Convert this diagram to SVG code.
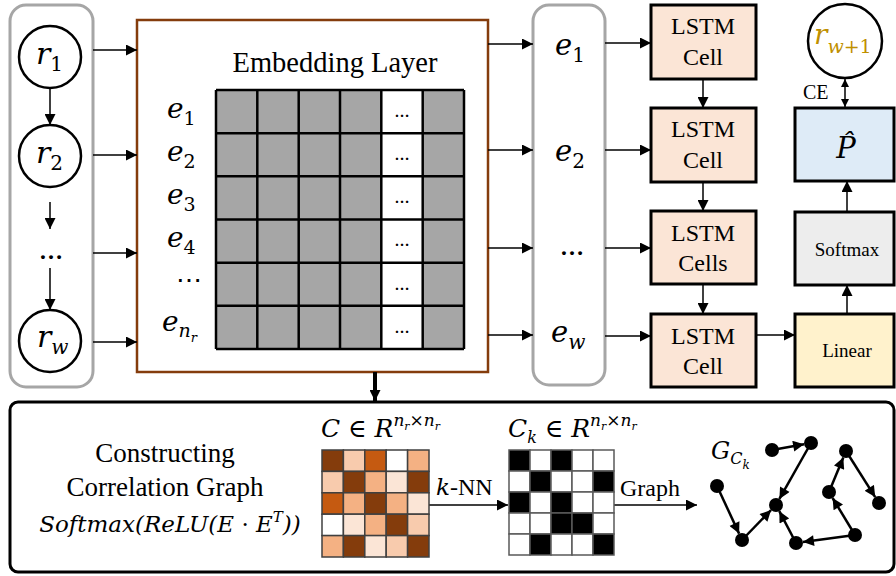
<svg xmlns="http://www.w3.org/2000/svg" width="896" height="576" viewBox="0 0 896 576">
  <defs>
    <style>
      .serif { font-family: "Liberation Serif", "Times New Roman", serif; fill: #000; }
      .math { font-family: "DejaVu Serif", serif; font-style: italic; fill: #000; }
      .up { font-style: normal; }
      .gold { fill: #bf9000; }
      .column { fill: #fff; stroke: #a6a6a6; stroke-width: 3; }
      .node { fill: #fff; stroke: #000; stroke-width: 2.5; }
      .lstm { fill: #fbe5d6; stroke: #000; stroke-width: 3; }
      .conn { stroke: #000; stroke-width: 1.5; fill: none; marker-end: url(#ah); }
      .gedge { stroke: #000; stroke-width: 2.5; fill: none; marker-end: url(#gah); }
      .gnode { fill: #000; }
      .dots { font-family: "Liberation Serif", serif; font-weight: bold; font-size: 15px; text-anchor: middle; }
    </style>
    <marker id="ah" viewBox="0 0 10 10" refX="10" refY="5" markerWidth="13" markerHeight="11" markerUnits="userSpaceOnUse" orient="auto-start-reverse">
      <path d="M0,0 L10,5 L0,10 z" fill="#000"/>
    </marker>
    <marker id="ahs" viewBox="0 0 10 10" refX="10" refY="5" markerWidth="9" markerHeight="8" markerUnits="userSpaceOnUse" orient="auto-start-reverse">
      <path d="M0,0 L10,5 L0,10 z" fill="#000"/>
    </marker>
    <marker id="gah" viewBox="0 0 10 10" refX="10" refY="5" markerWidth="12" markerHeight="11" markerUnits="userSpaceOnUse" orient="auto">
      <path d="M0,0 L10,5 L0,10 z" fill="#000"/>
    </marker>
  </defs>

  <!-- input sequence column -->
  <g id="input-sequence">
    <rect class="column" x="10" y="5" width="83" height="382" rx="16"/>
    <g id="r1">
      <circle class="node" cx="50" cy="57" r="31"/>
      <text class="math" x="36" y="64" font-size="30">r<tspan class="up" font-size="20" dy="7">1</tspan></text>
    </g>
    <g id="r2">
      <circle class="node" cx="50" cy="156" r="31"/>
      <text class="math" x="36" y="163" font-size="30">r<tspan class="up" font-size="20" dy="7">2</tspan></text>
    </g>
    <text x="51" y="259" class="serif" font-size="24" font-weight="bold" text-anchor="middle">…</text>
    <g id="rw">
      <circle class="node" cx="50" cy="341" r="31"/>
      <text class="math" x="37" y="347" font-size="30">r<tspan font-size="20" dy="7">w</tspan></text>
    </g>
  </g>

  <!-- embedding layer -->
  <g id="embedding-layer">
    <rect x="137" y="20" width="351" height="352" fill="#fff" stroke="#843c0c" stroke-width="2.5"/>
    <text class="serif" x="335" y="72" font-size="28.5" text-anchor="middle">Embedding Layer</text>
    <rect x="216" y="90" width="248" height="259" fill="#a6a6a6"/>
    <rect x="381.3" y="90" width="41.4" height="259" fill="#fff"/>
    <g stroke="#000" stroke-width="2.5">
      <line x1="216" y1="90" x2="216" y2="349"/>
      <line x1="257.3" y1="90" x2="257.3" y2="349"/>
      <line x1="298.7" y1="90" x2="298.7" y2="349"/>
      <line x1="340" y1="90" x2="340" y2="349"/>
      <line x1="381.3" y1="90" x2="381.3" y2="349"/>
      <line x1="422.7" y1="90" x2="422.7" y2="349"/>
      <line x1="464" y1="90" x2="464" y2="349"/>
      <line x1="216" y1="90" x2="464" y2="90"/>
      <line x1="216" y1="133.2" x2="464" y2="133.2"/>
      <line x1="216" y1="176.3" x2="464" y2="176.3"/>
      <line x1="216" y1="219.5" x2="464" y2="219.5"/>
      <line x1="216" y1="262.7" x2="464" y2="262.7"/>
      <line x1="216" y1="305.8" x2="464" y2="305.8"/>
      <line x1="216" y1="349" x2="464" y2="349"/>
    </g>
    <g class="dots">
      <text x="402" y="117">…</text>
      <text x="402" y="160">…</text>
      <text x="402" y="203">…</text>
      <text x="402" y="246">…</text>
      <text x="402" y="290">…</text>
      <text x="402" y="333">…</text>
    </g>
    <text class="math" x="167" y="118" font-size="28">e<tspan class="up" font-size="19" dy="7">1</tspan></text>
    <text class="math" x="167" y="161" font-size="28">e<tspan class="up" font-size="19" dy="7">2</tspan></text>
    <text class="math" x="167" y="204" font-size="28">e<tspan class="up" font-size="19" dy="7">3</tspan></text>
    <text class="math" x="167" y="247" font-size="28">e<tspan class="up" font-size="19" dy="7">4</tspan></text>
    <text class="math" x="189" y="289" font-size="26" text-anchor="middle"><tspan class="up">⋯</tspan></text>
    <text class="math" x="162" y="331" font-size="28">e<tspan font-size="19" dy="6">n</tspan><tspan font-size="13" dy="5">r</tspan></text>
  </g>

  <!-- embedded sequence column -->
  <g id="embedded-sequence">
    <rect class="column" x="533" y="5" width="72" height="380" rx="16"/>
    <text class="math" x="555" y="55" font-size="29">e<tspan class="up" font-size="20" dy="7">1</tspan></text>
    <text class="math" x="555" y="161" font-size="29">e<tspan class="up" font-size="20" dy="7">2</tspan></text>
    <text x="572" y="255" class="serif" font-size="24" font-weight="bold" text-anchor="middle">…</text>
    <text class="math" x="551" y="342" font-size="29">e<tspan font-size="20" dy="7">w</tspan></text>
  </g>

  <!-- LSTM cells -->
  <g id="lstm-1">
    <rect class="lstm" x="651" y="5" width="105" height="74"/>
    <text class="serif" x="703" y="34" font-size="24" text-anchor="middle">LSTM</text>
    <text class="serif" x="703" y="65" font-size="24" text-anchor="middle">Cell</text>
  </g>
  <g id="lstm-2">
    <rect class="lstm" x="651" y="108" width="105" height="74"/>
    <text class="serif" x="703" y="137" font-size="24" text-anchor="middle">LSTM</text>
    <text class="serif" x="703" y="168" font-size="24" text-anchor="middle">Cell</text>
  </g>
  <g id="lstm-3">
    <rect class="lstm" x="651" y="211" width="105" height="73"/>
    <text class="serif" x="703" y="241" font-size="24" text-anchor="middle">LSTM</text>
    <text class="serif" x="703" y="271" font-size="24" text-anchor="middle">Cells</text>
  </g>
  <g id="lstm-4">
    <rect class="lstm" x="651" y="314" width="105" height="73"/>
    <text class="serif" x="703" y="344" font-size="24" text-anchor="middle">LSTM</text>
    <text class="serif" x="703" y="374" font-size="24" text-anchor="middle">Cell</text>
  </g>

  <!-- output head -->
  <g id="linear">
    <rect x="795" y="314" width="99" height="73" fill="#fff2cc" stroke="#000" stroke-width="3"/>
    <text class="serif" x="847" y="357" font-size="19" text-anchor="middle">Linear</text>
  </g>
  <g id="softmax">
    <rect x="795" y="212" width="99" height="73" fill="#ededed" stroke="#000" stroke-width="3"/>
    <text class="serif" x="847" y="256" font-size="19" text-anchor="middle">Softmax</text>
  </g>
  <g id="p-hat">
    <rect x="795" y="108" width="99" height="73" fill="#deebf7" stroke="#000" stroke-width="3"/>
    <text class="math" x="846" y="158" font-size="29" text-anchor="middle">P&#x302;</text>
  </g>
  <g id="r-next">
    <circle class="node" cx="845" cy="41" r="37"/>
    <text class="math gold" x="814" y="44" font-size="28">r<tspan font-size="19" dy="9">w</tspan><tspan class="up" font-size="19">+1</tspan></text>
  </g>
  <text class="serif" x="803" y="99" font-size="20">CE</text>

  <!-- connectors -->
  <g id="connectors">
    <line class="conn" x1="50" y1="88" x2="50" y2="125"/>
    <line class="conn" x1="50" y1="202" x2="50" y2="229"/>
    <line class="conn" x1="50" y1="268" x2="50" y2="310"/>

    <line class="conn" x1="93" y1="50" x2="137" y2="50"/>
    <line class="conn" x1="93" y1="155" x2="137" y2="155"/>
    <line class="conn" x1="93" y1="253" x2="137" y2="253"/>
    <line class="conn" x1="93" y1="342" x2="137" y2="342"/>

    <line class="conn" x1="488" y1="44" x2="533" y2="44"/>
    <line class="conn" x1="488" y1="150" x2="533" y2="150"/>
    <line class="conn" x1="488" y1="248" x2="533" y2="248"/>
    <line class="conn" x1="488" y1="335" x2="533" y2="335"/>

    <line class="conn" x1="605" y1="43" x2="651" y2="43"/>
    <line class="conn" x1="605" y1="150" x2="651" y2="150"/>
    <line class="conn" x1="605" y1="248" x2="651" y2="248"/>
    <line class="conn" x1="605" y1="336" x2="651" y2="336"/>

    <line class="conn" x1="703" y1="79" x2="703" y2="108"/>
    <line class="conn" x1="703" y1="182" x2="703" y2="211"/>
    <line class="conn" x1="703" y1="284" x2="703" y2="314"/>

    <line class="conn" x1="756" y1="335" x2="795" y2="335"/>
    <line class="conn" x1="847" y1="314" x2="847" y2="285"/>
    <line class="conn" x1="847" y1="212" x2="847" y2="181"/>
    <line x1="845" y1="79" x2="845" y2="107" stroke="#000" stroke-width="1.5" marker-start="url(#ahs)" marker-end="url(#ahs)"/>

    <line x1="375" y1="372" x2="375" y2="401" stroke="#000" stroke-width="4" marker-end="url(#ah)"/>

    <line class="conn" x1="429" y1="505" x2="508" y2="505"/>
    <line class="conn" x1="614" y1="505" x2="697" y2="505"/>
  </g>

  <!-- correlation graph construction panel -->
  <g id="correlation-panel">
    <rect x="10" y="402" width="884" height="170" rx="8" fill="none" stroke="#000" stroke-width="3"/>
    <text class="serif" x="165" y="462" font-size="27" text-anchor="middle">Constructing</text>
    <text class="serif" x="165" y="496" font-size="27" text-anchor="middle">Correlation Graph</text>
    <text class="math" x="170" y="532" font-size="23" text-anchor="middle">Softmax(ReLU(E <tspan class="up">·</tspan> E<tspan font-size="15" dy="-10">T</tspan><tspan dy="10">))</tspan></text>
  </g>

  <g id="matrix-c">
    <text class="math" x="321" y="437" font-size="25">C <tspan class="up">∈</tspan> R<tspan font-size="17" dy="-11">n</tspan><tspan font-size="11" dy="4">r</tspan><tspan class="up" font-size="17" dy="-4">×</tspan><tspan font-size="17">n</tspan><tspan font-size="11" dy="4">r</tspan></text>
    <g stroke="#404040" stroke-width="1.5">
      <rect x="322" y="450" width="21.4" height="21.4" fill="#843c0c"/>
      <rect x="343.4" y="450" width="21.4" height="21.4" fill="#f8cbad"/>
      <rect x="364.8" y="450" width="21.4" height="21.4" fill="#c55a11"/>
      <rect x="386.2" y="450" width="21.4" height="21.4" fill="#ffffff"/>
      <rect x="407.6" y="450" width="21.4" height="21.4" fill="#f4b183"/>

      <rect x="322" y="471.4" width="21.4" height="21.4" fill="#f8cbad"/>
      <rect x="343.4" y="471.4" width="21.4" height="21.4" fill="#843c0c"/>
      <rect x="364.8" y="471.4" width="21.4" height="21.4" fill="#f4b183"/>
      <rect x="386.2" y="471.4" width="21.4" height="21.4" fill="#fbe5d6"/>
      <rect x="407.6" y="471.4" width="21.4" height="21.4" fill="#843c0c"/>

      <rect x="322" y="492.8" width="21.4" height="21.4" fill="#c55a11"/>
      <rect x="343.4" y="492.8" width="21.4" height="21.4" fill="#f4b183"/>
      <rect x="364.8" y="492.8" width="21.4" height="21.4" fill="#843c0c"/>
      <rect x="386.2" y="492.8" width="21.4" height="21.4" fill="#f4b183"/>
      <rect x="407.6" y="492.8" width="21.4" height="21.4" fill="#fbe5d6"/>

      <rect x="322" y="514.2" width="21.4" height="21.4" fill="#ffffff"/>
      <rect x="343.4" y="514.2" width="21.4" height="21.4" fill="#fbe5d6"/>
      <rect x="364.8" y="514.2" width="21.4" height="21.4" fill="#f4b183"/>
      <rect x="386.2" y="514.2" width="21.4" height="21.4" fill="#843c0c"/>
      <rect x="407.6" y="514.2" width="21.4" height="21.4" fill="#f8cbad"/>

      <rect x="322" y="535.6" width="21.4" height="21.4" fill="#f4b183"/>
      <rect x="343.4" y="535.6" width="21.4" height="21.4" fill="#843c0c"/>
      <rect x="364.8" y="535.6" width="21.4" height="21.4" fill="#fbe5d6"/>
      <rect x="386.2" y="535.6" width="21.4" height="21.4" fill="#f8cbad"/>
      <rect x="407.6" y="535.6" width="21.4" height="21.4" fill="#843c0c"/>
    </g>
  </g>
  <text class="serif" x="436" y="495" font-size="24"><tspan class="math" font-size="23">k</tspan>-NN</text>

  <g id="matrix-ck">
    <text class="math" x="508" y="437" font-size="25">C<tspan font-size="16" dy="6">k</tspan><tspan class="up" dy="-6"> ∈</tspan> R<tspan font-size="17" dy="-11">n</tspan><tspan font-size="11" dy="4">r</tspan><tspan class="up" font-size="17" dy="-4">×</tspan><tspan font-size="17">n</tspan><tspan font-size="11" dy="4">r</tspan></text>
    <g stroke="#595959" stroke-width="1.5">
      <rect x="509" y="450" width="21" height="21" fill="#000"/>
      <rect x="530" y="450" width="21" height="21" fill="#fff"/>
      <rect x="551" y="450" width="21" height="21" fill="#000"/>
      <rect x="572" y="450" width="21" height="21" fill="#fff"/>
      <rect x="593" y="450" width="21" height="21" fill="#fff"/>

      <rect x="509" y="471" width="21" height="21" fill="#fff"/>
      <rect x="530" y="471" width="21" height="21" fill="#000"/>
      <rect x="551" y="471" width="21" height="21" fill="#fff"/>
      <rect x="572" y="471" width="21" height="21" fill="#fff"/>
      <rect x="593" y="471" width="21" height="21" fill="#000"/>

      <rect x="509" y="492" width="21" height="21" fill="#000"/>
      <rect x="530" y="492" width="21" height="21" fill="#fff"/>
      <rect x="551" y="492" width="21" height="21" fill="#000"/>
      <rect x="572" y="492" width="21" height="21" fill="#fff"/>
      <rect x="593" y="492" width="21" height="21" fill="#fff"/>

      <rect x="509" y="513" width="21" height="21" fill="#fff"/>
      <rect x="530" y="513" width="21" height="21" fill="#fff"/>
      <rect x="551" y="513" width="21" height="21" fill="#000"/>
      <rect x="572" y="513" width="21" height="21" fill="#000"/>
      <rect x="593" y="513" width="21" height="21" fill="#fff"/>

      <rect x="509" y="534" width="21" height="21" fill="#fff"/>
      <rect x="530" y="534" width="21" height="21" fill="#000"/>
      <rect x="551" y="534" width="21" height="21" fill="#fff"/>
      <rect x="572" y="534" width="21" height="21" fill="#fff"/>
      <rect x="593" y="534" width="21" height="21" fill="#000"/>
    </g>
  </g>
  <text class="serif" x="620" y="496" font-size="24">Graph</text>

  <!-- resulting k-NN graph -->
  <g id="graph-g">
    <text class="math" x="711" y="459" font-size="24">G<tspan font-size="16" dy="5">C</tspan><tspan font-size="12" dy="5">k</tspan></text>
    <g id="graph-edges">
      <line class="gedge" x1="772" y1="450" x2="804.1" y2="444.2"/>
      <line class="gedge" x1="811" y1="443" x2="779.4" y2="498.9"/>
      <line class="gedge" x1="717" y1="486" x2="739.1" y2="533.6"/>
      <line class="gedge" x1="742" y1="540" x2="771.1" y2="510"/>
      <line class="gedge" x1="796" y1="543" x2="779.3" y2="511.2"/>
      <line class="gedge" x1="855" y1="535" x2="802.9" y2="542.1"/>
      <line class="gedge" x1="855" y1="535" x2="832.6" y2="498"/>
      <line class="gedge" x1="829" y1="492" x2="843.3" y2="457.5"/>
      <line class="gedge" x1="846" y1="451" x2="875.2" y2="497.1"/>
    </g>
    <g id="graph-nodes">
      <circle class="gnode" cx="772" cy="450" r="7"/>
      <circle class="gnode" cx="811" cy="443" r="7"/>
      <circle class="gnode" cx="846" cy="451" r="7"/>
      <circle class="gnode" cx="717" cy="486" r="7"/>
      <circle class="gnode" cx="776" cy="505" r="7"/>
      <circle class="gnode" cx="829" cy="492" r="7"/>
      <circle class="gnode" cx="879" cy="503" r="7"/>
      <circle class="gnode" cx="742" cy="540" r="7"/>
      <circle class="gnode" cx="796" cy="543" r="7"/>
      <circle class="gnode" cx="855" cy="535" r="7"/>
    </g>
  </g>
</svg>
